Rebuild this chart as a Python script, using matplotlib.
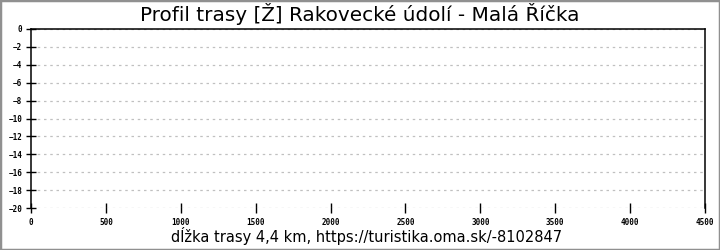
import matplotlib
matplotlib.use("Agg")
import matplotlib.pyplot as plt
from matplotlib.patches import Rectangle

# osy grafu (profil bez dat)
x_ticks = [0, 500, 1000, 1500, 2000, 2500, 3000, 3500, 4000, 4500]
y_ticks = [0, -2, -4, -6, -8, -10, -12, -14, -16, -18, -20]
title = "Profil trasy [Ž] Rakovecké údolí - Malá Říčka"
xlabel = "dĺžka trasy 4,4 km, https://turistika.oma.sk/-8102847"

fig = plt.figure(figsize=(7.2, 2.5), dpi=100)
ax = fig.add_axes([31/720, 1 - 208/250, (705 - 31)/720, (208 - 29)/250])

ax.set_xlim(x_ticks[0], x_ticks[-1])
ax.set_ylim(y_ticks[-1], y_ticks[0])
ax.set_xticks(x_ticks)
ax.set_yticks(y_ticks)
ax.set_xticklabels([str(v) for v in x_ticks], family="DejaVu Sans Mono", fontsize=5.5, fontweight="bold")
ax.set_yticklabels(["%d" % v if v == 0 else "\u2212%d" % -v for v in y_ticks],
                   family="DejaVu Sans Mono", fontsize=5.5, fontweight="bold")
ax.tick_params(direction="inout", length=6.5, width=1, pad=3)
ax.tick_params(axis="x", pad=4)
ax.grid(axis="y", color="#c0c0c0", linestyle=(0, (2, 3)), linewidth=0.9)
ax.spines["bottom"].set_visible(False)
for s in ("left", "right", "top"):
    ax.spines[s].set_linewidth(1.1)

fig.text(0.5, 1 - 14/250, title, ha="center", va="center", fontsize=14.4)
fig.text(367/720, 1 - 236/250, xlabel, ha="center", va="center", fontsize=10.5)

fig.patches.append(Rectangle((0, 0), 1, 1, transform=fig.transFigure, fill=False,
                             edgecolor="#909090", linewidth=2.5))

fig.savefig("out.png", dpi=100)
